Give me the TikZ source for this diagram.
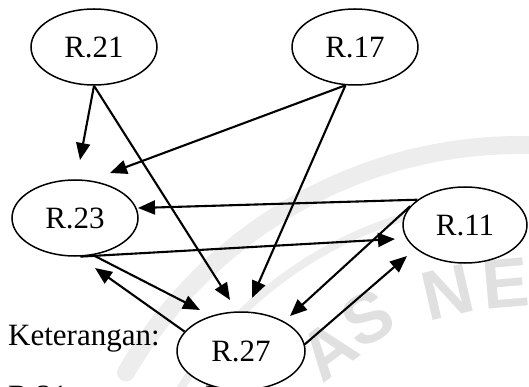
\documentclass[tikz,border=0pt]{standalone}
\usepackage{fontspec}
\setmainfont{Liberation Serif}
\newfontfamily\wmfont{Liberation Sans}
\usetikzlibrary{shapes.geometric,arrows.meta,calc}

\begin{document}
\begin{tikzpicture}[x=1pt,y=-1pt,
  place/.style={ellipse, draw, line width=1.5pt, fill=white,
    minimum width=126pt, minimum height=76pt, inner sep=0pt,
    font=\fontsize{31}{36}\selectfont},
  link/.style={line width=2.1pt, -{Triangle[length=17pt,width=14pt]}},
  legend/.style={font=\fontsize{31}{36}\selectfont, inner sep=0pt, anchor=base west},
  wm/.style={font=\wmfont\bfseries\fontsize{70}{70}\selectfont, text=black!12, inner sep=0pt},
  ring/.style={black!7, line cap=round}
]
\useasboundingbox (0,0) rectangle (529,387);
\clip (0,0) rectangle (529,387);

% faint logo watermark in the background
\draw[ring, line width=18pt] plot[domain=88:150, samples=50] ({520+455*cos(\x)},{600-455*sin(\x)});
\draw[ring, line width=8pt] plot[domain=100:160, samples=50] ({520+400*cos(\x)},{600-400*sin(\x)});
\node[wm, rotate=37] (wA) at (328,350) {A};
\node[wm, rotate=28] (wS) at (368,318) {S};
\node[wm, rotate=13] (wN) at (448,292) {N};
\node[wm, rotate=5]  (wE) at (506,283) {E};

% legend text
\node[legend] (ket) at (8,345) {Keterangan:};
\node[legend] (k21) at (8,406) {R.21: -};
\node[legend] (k17) at (205,406) {R.17: -};

% states
\node[place] (r21) at (94,47) {R.21};
\node[place] (r17) at (355,47) {R.17};
\node[place] (r23) at (75,218) {R.23};
\node[place, minimum width=124pt] (r11) at (465,225) {R.11};
\node[place, minimum width=128pt, minimum height=78pt] (r27) at (241,351) {R.27};

% arrow tips stop short of their targets
\coordinate (t2123) at (80,160);
\coordinate (t2127) at (230,300);
\coordinate (t1723) at (110,173);
\coordinate (t1727) at (252,298);
\coordinate (t1123) at (138,208);
\coordinate (t2311) at (395,239);
\coordinate (t2327) at (200,310);
\coordinate (t2723) at (95,268);
\coordinate (t1127) at (290,316);
\coordinate (t2711) at (407,256);

\draw[link] (r21.south) -- (t2123);
\draw[link] (r21.south) -- (t2127);
\draw[link] (r17.-104) -- (t1723);
\draw[link] (r17.-104) -- (t1727);
\draw[link] (r11.152) -- (t1123);
\draw[link] (r23.-82) -- (t2311);
\draw[link] (r23.-64) -- (t2327);
\draw[link] (r27.161) -- (t2723);
\draw[link] (r11.161) -- (t1127);
\draw[link] (r27.6) -- (t2711);
\end{tikzpicture}
\end{document}
